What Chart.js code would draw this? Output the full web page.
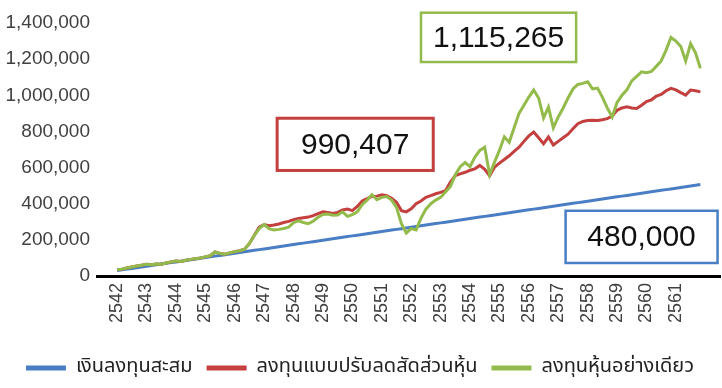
<!DOCTYPE html>
<html>
<head>
<meta charset="utf-8">
<script src="https://cdn.jsdelivr.net/npm/chart.js@4"></script>
<style>
  html, body { margin: 0; padding: 0; background: #fff; }
  #wrap { width: 722px; height: 388px; }
</style>
</head>
<body>
<div id="wrap"><canvas id="chart"></canvas></div>
<script>
// year labels, one per 12 months
const years = ["2542", "2543", "2544", "2545", "2546", "2547", "2548", "2549", "2550", "2551",
  "2552", "2553", "2554", "2555", "2556", "2557", "2558", "2559", "2560", "2561"];

const yTicks = [0, 200000, 400000, 600000, 800000, 1000000, 1200000, 1400000];

const seriesNames = ["เงินลงทุนสะสม", "ลงทุนแบบปรับลดสัดส่วนหุ้น", "ลงทุนหุ้นอย่างเดียว"];

// values every 2 months from the start of 2542
const invested = [
  30000, 34000, 38000, 42000, 46000, 50000, 54000, 58000, 62000, 66000,
  70000, 74000, 78000, 82000, 86000, 90000, 94000, 98000, 102000, 106000,
  110000, 114000, 118000, 122000, 126000, 130000, 134000, 138000, 142000, 146000,
  150000, 154000, 158000, 162000, 166000, 170000, 174000, 178000, 182000, 186000,
  190000, 194000, 198000, 202000, 206000, 210000, 214000, 218000, 222000, 226000,
  230000, 234000, 238000, 242000, 246000, 250000, 254000, 258000, 262000, 266000,
  270000, 274000, 278000, 282000, 286000, 290000, 294000, 298000, 302000, 306000,
  310000, 314000, 318000, 322000, 326000, 330000, 334000, 338000, 342000, 346000,
  350000, 354000, 358000, 362000, 366000, 370000, 374000, 378000, 382000, 386000,
  390000, 394000, 398000, 402000, 406000, 410000, 414000, 418000, 422000, 426000,
  430000, 434000, 438000, 442000, 446000, 450000, 454000, 458000, 462000, 466000,
  470000, 474000, 478000, 482000, 486000, 490000, 494000, 498000, 502000, 506000
];

const rebalanced = [
  35000, 38000, 44000, 50000, 55000, 60000, 65000, 62000, 66000, 65000,
  72000, 78000, 83000, 80000, 87000, 92000, 96000, 100000, 106000, 112000,
  133000, 125000, 121000, 128000, 135000, 140000, 148000, 180000, 225000, 270000,
  285000, 278000, 282000, 288000, 296000, 302000, 312000, 318000, 322000, 326000,
  334000, 345000, 355000, 352000, 346000, 352000, 365000, 371000, 362000, 385000,
  415000, 428000, 440000, 442000, 450000, 445000, 430000, 408000, 362000, 355000,
  372000, 400000, 415000, 435000, 445000, 455000, 463000, 472000, 520000, 556000,
  565000, 574000, 585000, 593000, 612000, 590000, 555000, 602000, 625000, 645000,
  665000, 690000, 713000, 745000, 775000, 797000, 765000, 732000, 769000, 725000,
  745000, 765000, 785000, 815000, 843000, 855000, 860000, 862000, 860000, 865000,
  871000, 885000, 917000, 930000, 936000, 930000, 927000, 945000, 965000, 975000,
  995000, 1005000, 1025000, 1038000, 1030000, 1015000, 1001000, 1029000, 1025000, 1019000
];

const stocksOnly = [
  35000, 38000, 44000, 50000, 55000, 60000, 65000, 62000, 66000, 65000,
  72000, 78000, 83000, 80000, 87000, 92000, 96000, 100000, 106000, 112000,
  133000, 125000, 121000, 128000, 135000, 140000, 148000, 180000, 225000, 262000,
  285000, 262000, 255000, 258000, 263000, 270000, 295000, 305000, 296000, 290000,
  303000, 325000, 340000, 343000, 336000, 338000, 355000, 330000, 340000, 355000,
  395000, 420000, 450000, 422000, 435000, 440000, 420000, 380000, 290000, 238000,
  262000, 255000, 320000, 370000, 400000, 420000, 435000, 465000, 495000, 560000,
  605000, 628000, 605000, 658000, 695000, 713000, 560000, 630000, 695000, 770000,
  740000, 820000, 900000, 945000, 990000, 1029000, 985000, 875000, 935000, 820000,
  880000, 930000, 985000, 1035000, 1060000, 1066000, 1075000, 1035000, 1040000, 990000,
  930000, 880000, 960000, 1000000, 1030000, 1080000, 1105000, 1130000, 1125000, 1132000,
  1160000, 1190000, 1250000, 1320000, 1300000, 1270000, 1190000, 1285000, 1235000, 1150000
];

const colors = ["#4A7EC4", "#C3403F", "#93BB4B"];

// boxed value notes, placed in data units (months, baht)
const notes = [
  { text: "990,407", color: "#C3403F", width: 3, x0: 65.3, x1: 129, y0: 584000, y1: 873000 },
  { text: "1,115,265", color: "#93BB4B", width: 2.5, x0: 124, x1: 187.3, y0: 1184000, y1: 1457000 },
  { text: "480,000", color: "#4A7EC4", width: 2.5, x0: 183, x1: 245, y0: 72000, y1: 361000 }
];

const toPoints = arr => arr.map((v, i) => ({ x: i * 2, y: v }));

const notePlugin = {
  id: "notes",
  afterDraw(chart) {
    const c = chart.ctx;
    const xs = chart.scales.x, ys = chart.scales.y;
    c.save();
    notes.forEach(n => {
      const l = xs.getPixelForValue(n.x0), r = xs.getPixelForValue(n.x1);
      const t = ys.getPixelForValue(n.y1), b = ys.getPixelForValue(n.y0);
      c.fillStyle = "#fff";
      c.fillRect(l, t, r - l, b - t);
      c.strokeStyle = n.color;
      c.lineWidth = n.width;
      c.strokeRect(l, t, r - l, b - t);
      c.fillStyle = "#111";
      c.font = "30px 'Liberation Sans', Arial, sans-serif";
      c.textAlign = "center";
      c.textBaseline = "middle";
      c.fillText(n.text, (l + r) / 2, (t + b) / 2 + 1);
    });
    c.restore();
  }
};

const ctx = document.getElementById("chart").getContext("2d");

new Chart(ctx, {
  type: "line",
  data: {
    datasets: [
      { label: seriesNames[0], data: toPoints(invested), borderColor: colors[0], backgroundColor: colors[0], order: 2 },
      { label: seriesNames[1], data: toPoints(rebalanced), borderColor: colors[1], backgroundColor: colors[1], order: 1 },
      { label: seriesNames[2], data: toPoints(stocksOnly), borderColor: colors[2], backgroundColor: colors[2], order: 0 }
    ]
  },
  options: {
    responsive: true,
    maintainAspectRatio: false,
    animation: false,
    layout: { padding: { top: 23, right: 2, left: 0, bottom: 0 } },
    elements: {
      point: { radius: 0 },
      line: { borderWidth: 3, tension: 0 }
    },
    scales: {
      x: {
        type: "linear",
        min: -8.2,
        max: 246,
        grid: { display: false, drawTicks: false },
        border: { display: true, color: "#000", width: 3 },
        ticks: {
          autoSkip: false,
          minRotation: 90,
          maxRotation: 90,
          padding: 7,
          color: "#404040",
          font: { family: "'Liberation Sans', Arial, sans-serif", size: 18 },
          callback: v => years[v / 12]
        },
        afterBuildTicks: scale => {
          scale.ticks = years.map((y, i) => ({ value: i * 12 }));
        },
        afterFit: scale => { scale.height = 68; }
      },
      y: {
        min: 0,
        max: 1400000,
        grid: { display: false, drawTicks: false },
        border: { display: false },
        ticks: {
          padding: 7,
          color: "#404040",
          font: { family: "'Liberation Sans', Arial, sans-serif", size: 19 },
          callback: v => v.toLocaleString("en-US")
        },
        afterBuildTicks: scale => {
          scale.ticks = yTicks.map(v => ({ value: v }));
        },
        afterFit: scale => { scale.width = 97; }
      }
    },
    plugins: {
      tooltip: { enabled: false },
      legend: {
        position: "bottom",
        labels: {
          boxWidth: 40,
          boxHeight: 5,
          useBorderRadius: true,
          borderRadius: 2.5,
          padding: 14,
          color: "#222",
          font: { family: "Tahoma, 'Noto Sans Thai', 'Noto Sans', sans-serif", size: 20 },
          generateLabels: chart => chart.data.datasets.map((d, i) => ({
            text: d.label,
            fillStyle: d.borderColor,
            strokeStyle: d.borderColor,
            lineWidth: 0,
            fontColor: "#222",
            datasetIndex: i
          }))
        }
      }
    }
  },
  plugins: [notePlugin]
});
</script>
</body>
</html>
